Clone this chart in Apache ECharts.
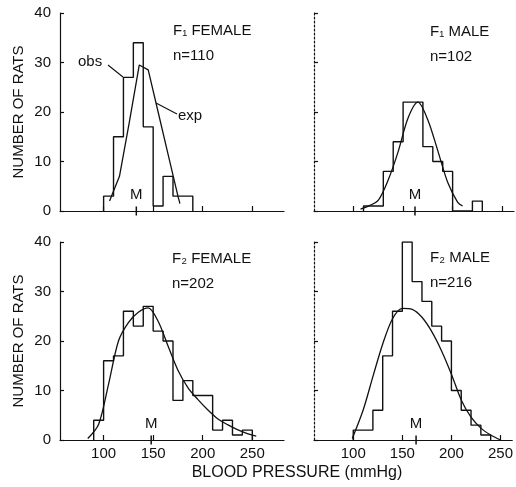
<!DOCTYPE html>
<html>
<head>
<meta charset="utf-8">
<script src="https://cdn.jsdelivr.net/npm/echarts@6/dist/echarts.min.js"></script>
<style>
  html, body { margin: 0; padding: 0; background: #fff; }
  #main { width: 516px; height: 487px; }
</style>
</head>
<body>
<div id="main"></div>
<script>
// histogram bins: lower edge of each 10 mmHg bin and the observed count
const binWidth = 10;
const f1FemaleBins = [100, 110, 120, 130, 140, 150, 160, 170, 180];
const f1FemaleObs = [3, 15, 27, 34, 17, 1, 7, 3, 3];
const f1MaleBins = [110, 120, 130, 140, 150, 160, 170, 180, 190, 200, 210, 220];
const f1MaleObs = [1, 1, 8, 14, 22, 22, 13, 10, 8, 0, 0, 2];
const f2FemaleBins = [90, 100, 110, 120, 130, 140, 150, 160, 170, 180, 190, 200, 210, 220, 230, 240];
const f2FemaleObs = [4, 16, 17, 26, 23, 27, 22, 20, 8, 12, 9, 9, 2, 4, 1, 2];
const f2MaleBins = [100, 110, 120, 130, 140, 150, 160, 170, 180, 190, 200, 210, 220, 230];
const f2MaleObs = [2, 2, 6, 17, 26, 40, 32, 28, 23, 20, 10, 6, 3, 1];

// expected (fitted) curves
const f1FemaleExpX = [106, 116, 126, 136, 145, 155, 165, 175, 177];
const f1FemaleExpY = [2, 7, 18, 29.5, 28.5, 20, 11.5, 3, 1.5];
const f1MaleExpX = [107, 115, 125, 135, 145, 155, 165, 175, 185, 195, 205, 210];
const f1MaleExpY = [0.4, 1, 2.2, 6.3, 12, 18.8, 22, 18.4, 12.2, 5.8, 1.8, 1];
const f2FemaleExpX = [84, 95, 105, 115, 125, 135, 145, 155, 165, 175, 185, 195, 205, 215, 225, 235, 245, 254];
const f2FemaleExpY = [0.3, 3.2, 11.3, 20, 23.7, 25.8, 26.7, 24, 19, 14.1, 10.6, 8.2, 6.1, 4.3, 3.1, 2.1, 1.3, 0.8];
const f2MaleExpX = [99, 110, 120, 130, 140, 150, 160, 170, 180, 190, 200, 210, 220, 230, 240, 250];
const f2MaleExpY = [0.3, 6, 12.8, 19.4, 24.5, 26.6, 26.4, 24.8, 21.9, 18, 13.3, 8.1, 4.6, 2.4, 1, 0];

// mean blood pressure (M) per group
const means = [133, 162, 148, 164];
const panelTitles = ['F\u2081 FEMALE', 'F\u2081 MALE', 'F\u2082 FEMALE', 'F\u2082 MALE'];
const panelN = ['n=110', 'n=102', 'n=202', 'n=216'];
const xTicks = [100, 150, 200, 250];

const font = 'Liberation Sans, Arial, sans-serif';
const ink = '#111';

// outline of a histogram as a stepped line
function stepPoints(bins, counts) {
  const pts = [[bins[0], 0]];
  bins.forEach((b, i) => pts.push([b, counts[i]]));
  pts.push([bins[bins.length - 1] + binWidth, 0]);
  return pts;
}
function zip(xs, ys) { return xs.map((x, i) => [x, ys[i]]); }

const panels = [
  { bins: f1FemaleBins, obs: f1FemaleObs, ex: f1FemaleExpX, ey: f1FemaleExpY, smooth: false },
  { bins: f1MaleBins, obs: f1MaleObs, ex: f1MaleExpX, ey: f1MaleExpY, smooth: true },
  { bins: f2FemaleBins, obs: f2FemaleObs, ex: f2FemaleExpX, ey: f2FemaleExpY, smooth: true },
  { bins: f2MaleBins, obs: f2MaleObs, ex: f2MaleExpX, ey: f2MaleExpY, smooth: true }
];

const grids = [
  { left: 60, top: 13, width: 224, height: 198 },
  { left: 314, top: 13, width: 200, height: 198 },
  { left: 60, top: 242, width: 224, height: 198 },
  { left: 314, top: 242, width: 200, height: 198 }
];
const xRange = [[56, 282], [60, 262], [56, 282], [60, 262]];

const xAxis = [], yAxis = [], series = [];
grids.forEach((g, i) => {
  const bottom = i >= 2, left = i % 2 === 0;
  xAxis.push({
    type: 'value', gridIndex: i, min: xRange[i][0], max: xRange[i][1],
    axisLine: { lineStyle: { color: ink, width: 1.2 } },
    axisTick: { show: true, inside: true, length: 5, customValues: xTicks, lineStyle: { color: ink, width: 1.2 } },
    axisLabel: { show: bottom, customValues: xTicks, color: ink, fontSize: 15, fontFamily: font, margin: 6 },
    splitLine: { show: false }
  });
  yAxis.push({
    type: 'value', gridIndex: i, min: 0, max: 40, interval: 10,
    name: left ? 'NUMBER OF RATS' : '',
    nameLocation: 'middle', nameRotate: 90, nameGap: 34,
    nameTextStyle: { color: ink, fontSize: 15, fontFamily: font },
    axisLine: { show: true, lineStyle: { color: ink, width: 1.2, type: left ? 'solid' : [2, 2] } },
    axisTick: { show: true, inside: true, length: 4, lineStyle: { color: ink, width: 1.2 } },
    axisLabel: { show: left, color: ink, fontSize: 15, fontFamily: font, margin: 9 },
    splitLine: { show: false }
  });
  const p = panels[i];
  series.push({
    name: 'obs', type: 'line', xAxisIndex: i, yAxisIndex: i, step: 'end',
    data: stepPoints(p.bins, p.obs), showSymbol: false, silent: true,
    lineStyle: { color: ink, width: 1.4 }
  });
  series.push({
    name: 'exp', type: 'line', xAxisIndex: i, yAxisIndex: i,
    smooth: p.smooth ? 0.3 : false,
    data: zip(p.ex, p.ey), showSymbol: false, silent: true,
    lineStyle: { color: ink, width: 1.3 }
  });
  series.push({
    type: 'scatter', xAxisIndex: i, yAxisIndex: i, silent: true,
    data: [[means[i], 0]], symbol: 'rect', symbolSize: [1.5, 9],
    itemStyle: { color: ink, opacity: 1 },
    label: { show: true, formatter: 'M', position: 'top', distance: 4, color: ink, fontSize: 15, fontFamily: font }
  });
});

function txt(x, y, s) {
  return {
    type: 'text', x: x, y: y,
    style: { text: s, fill: ink, fontSize: 15, fontFamily: font, textVerticalAlign: 'middle' }
  };
}
const titlePos = [[173, 31], [430, 32], [172, 259], [430, 258]];
const graphic = [];
titlePos.forEach((pos, i) => {
  graphic.push(txt(pos[0], pos[1], panelTitles[i]));
  graphic.push(txt(pos[0], pos[1] + 25, panelN[i]));
});
graphic.push(txt(78, 62, 'obs'));
graphic.push({ type: 'line', shape: { x1: 108, y1: 65, x2: 123, y2: 77 }, style: { stroke: ink, lineWidth: 1.1 } });
graphic.push(txt(178, 116, 'exp'));
graphic.push({ type: 'line', shape: { x1: 156, y1: 103, x2: 177, y2: 114 }, style: { stroke: ink, lineWidth: 1.1 } });
graphic.push({
  type: 'text', x: 297, y: 473,
  style: { text: 'BLOOD PRESSURE (mmHg)', fill: ink, fontSize: 16, fontFamily: font, textAlign: 'center', textVerticalAlign: 'middle' }
});

const chart = echarts.init(document.getElementById('main'));
chart.setOption({
  backgroundColor: '#fff',
  animation: false,
  grid: grids,
  xAxis: xAxis,
  yAxis: yAxis,
  series: series,
  graphic: graphic
});
window.addEventListener('resize', () => chart.resize());
</script>
</body>
</html>
